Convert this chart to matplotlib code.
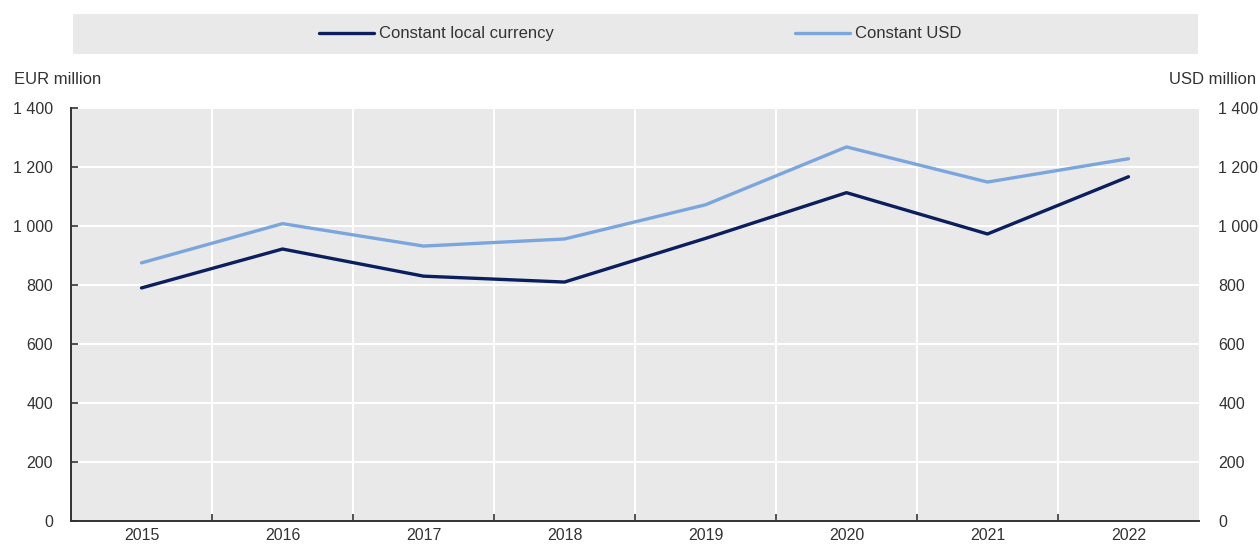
import matplotlib
matplotlib.use("Agg")
import matplotlib.pyplot as plt
from matplotlib.patches import Rectangle

years = ["2015", "2016", "2017", "2018", "2019", "2020", "2021", "2022"]
local_currency = [790, 922, 830, 810, 958, 1113, 973, 1167]
constant_usd = [875, 1008, 932, 956, 1072, 1268, 1149, 1228]
yticks = [0, 200, 400, 600, 800, 1000, 1200, 1400]
ytick_labels = ["0", "200", "400", "600", "800", "1 000", "1 200", "1 400"]

plt.rcParams['font.family'] = ['Liberation Sans', 'DejaVu Sans']
FS = 12
TFS = 11.5
DARK = "#0b1f5e"
LIGHT = "#7aa6dd"
BG = "#e9e9e9"
TXT = "#333333"

fig = plt.figure(figsize=(12.59, 5.46), dpi=100)
ax = fig.add_axes([71/1259, 25/546, 1128/1259, 413/546])
ax.set_facecolor(BG)

x = list(range(len(years)))
ax.plot(x, local_currency, color=DARK, lw=2.4, label="Constant local currency", solid_capstyle="round")
ax.plot(x, constant_usd, color=LIGHT, lw=2.4, label="Constant USD", solid_capstyle="round")

ax.set_xlim(-0.5, len(years) - 0.5)
ax.set_ylim(0, 1400)
ax.set_xticks(x)
ax.set_xticklabels(years, fontsize=TFS, color=TXT)
ax.set_xticks([i + 0.5 for i in range(len(years) - 1)], minor=True)
ax.tick_params(axis="x", which="major", length=0, pad=5)
ax.tick_params(axis="x", which="minor", direction="in", length=5, width=1.2, color=TXT)
ax.set_yticks(yticks)
ax.set_yticklabels(ytick_labels, fontsize=TFS, color=TXT)
ax.tick_params(axis="y", direction="in", length=5, width=1.2, color=TXT, pad=13)

ax.grid(True, which="minor", axis="x", color="white", lw=1.5)
ax.grid(True, which="major", axis="y", color="white", lw=1.5)
ax.set_axisbelow(True)
for s in ["top", "right"]:
    ax.spines[s].set_visible(False)
for s in ["left", "bottom"]:
    ax.spines[s].set_color(TXT)
    ax.spines[s].set_linewidth(1.4)

ax2 = ax.twinx()
ax2.set_ylim(0, 1400)
ax2.set_yticks(yticks)
ax2.set_yticklabels(ytick_labels, fontsize=TFS, color=TXT)
ax2.tick_params(axis="y", length=0, pad=14)
for s in ax2.spines.values():
    s.set_visible(False)

fig.text(14/1259, 1 - 80/546, "EUR million", fontsize=FS, color=TXT, va="center", ha="left")
fig.text(1256/1259, 1 - 80/546, "USD million", fontsize=FS, color=TXT, va="center", ha="right")

fig.patches.append(Rectangle((73/1259, 1 - 54/546), 1125/1259, 40/546,
                             transform=fig.transFigure, facecolor=BG, edgecolor="none", zorder=0))
handles, labels = ax.get_legend_handles_labels()
leg = fig.legend(handles, labels, loc="center", bbox_to_anchor=(640/1259, 1 - 34/546),
                 ncol=2, frameon=False, fontsize=FS, handlelength=3.3, handletextpad=0.3,
                 columnspacing=14.5)
for t in leg.get_texts():
    t.set_color(TXT)

fig.savefig("out.png", dpi=100)
